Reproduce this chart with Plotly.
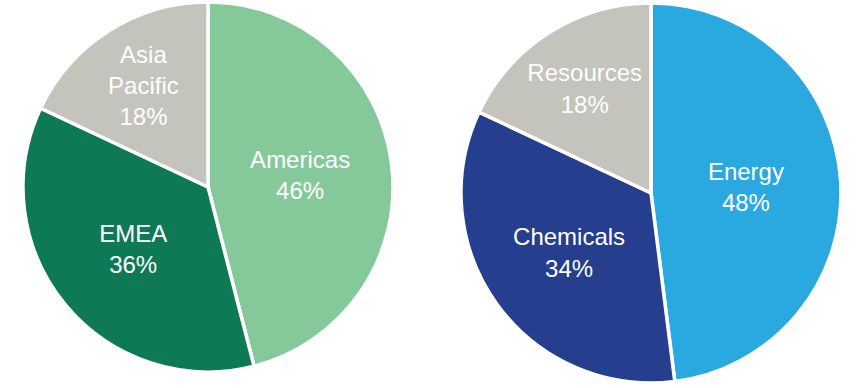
import plotly.graph_objects as go

region_labels = ["Americas", "EMEA", "Asia<br>Pacific"]
region_values = [46, 36, 18]
region_colors = ["#85C99B", "#0E7A55", "#C4C4BC"]

sector_labels = ["Energy", "Chemicals", "Resources"]
sector_values = [48, 34, 18]
sector_colors = ["#2AA8E0", "#253E8E", "#C4C4BC"]

font = dict(family="Liberation Sans, Arial", size=24, color="white")

fig = go.Figure()
fig.add_trace(go.Pie(
    labels=region_labels, values=region_values, sort=False, direction="clockwise",
    rotation=0, marker=dict(colors=region_colors, line=dict(color="white", width=3.5)),
    texttemplate="%{label}<br>%{value}%", textposition="inside",
    insidetextorientation="horizontal", textfont=font,
    domain=dict(x=[23/858, 393/858], y=[16/388, 386/388]),
    hoverinfo="label+value", showlegend=False,
))
fig.add_trace(go.Pie(
    labels=sector_labels, values=sector_values, sort=False, direction="clockwise",
    rotation=0, marker=dict(colors=sector_colors, line=dict(color="white", width=3.5)),
    texttemplate="%{label}<br>%{value}%", textposition="inside",
    insidetextorientation="horizontal", textfont=font,
    domain=dict(x=[461/858, 841/858], y=[5/388, 385/388]),
    hoverinfo="label+value", showlegend=False,
))
fig.update_layout(width=858, height=388, margin=dict(l=0, r=0, t=0, b=0),
                  paper_bgcolor="white", plot_bgcolor="white")
fig.write_html("out.html", config={"displayModeBar": False},
               post_script="document.body.style.margin='0px';")
